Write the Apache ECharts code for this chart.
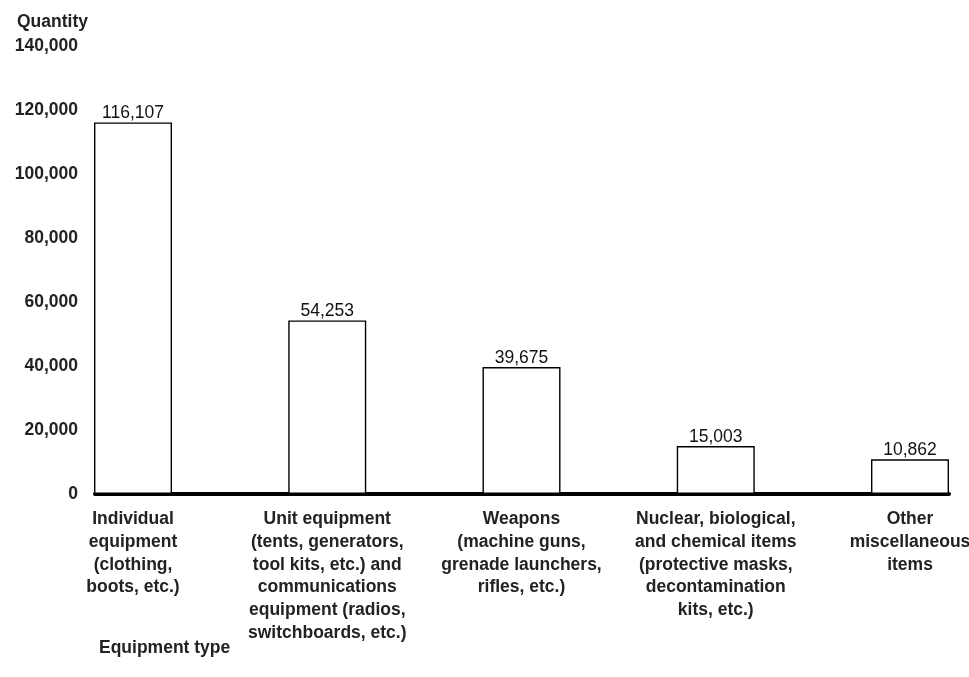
<!DOCTYPE html>
<html>
<head>
<meta charset="utf-8">
<script src="https://cdn.jsdelivr.net/npm/echarts@6/dist/echarts.min.js"></script>
<style>
  html, body { margin: 0; padding: 0; background: #fff; }
  #chart { width: 969px; height: 677px; }
</style>
</head>
<body>
<div id="chart"></div>
<script>
// equipment categories and quantities
const categories = [
  'Individual\nequipment\n(clothing,\nboots, etc.)',
  'Unit equipment\n(tents, generators,\ntool kits, etc.) and\ncommunications\nequipment (radios,\nswitchboards, etc.)',
  'Weapons\n(machine guns,\ngrenade launchers,\nrifles, etc.)',
  'Nuclear, biological,\nand chemical items\n(protective masks,\ndecontamination\nkits, etc.)',
  'Other\nmiscellaneous\nitems'
]
const quantities = [116107, 54253, 39675, 15003, 10862]

const font = 'Arial, "Liberation Sans", Helvetica, sans-serif'
const fs = 17.5

const chart = echarts.init(document.getElementById('chart'))

const option = {
  animation: false,
  backgroundColor: '#fff',
  title: [
    {
      text: 'Quantity',
      left: 12, top: 8,
      textStyle: { fontFamily: font, fontSize: fs, fontWeight: 'bold', color: '#222' }
    },
    {
      text: 'Equipment type',
      left: 94, top: 634,
      textStyle: { fontFamily: font, fontSize: fs, fontWeight: 'bold', color: '#222' }
    }
  ],
  grid: [
    // bars
    { left: 133, right: 59, top: 46, bottom: 183, outerBoundsMode: 'none' },
    // baseline + value axis labels
    { left: 95, right: 20, top: 46, bottom: 183, outerBoundsMode: 'none' }
  ],
  xAxis: [
    {
      type: 'category',
      gridIndex: 0,
      data: categories,
      boundaryGap: false,
      axisLine: { show: false },
      axisTick: { show: false },
      axisLabel: {
        margin: 14,
        interval: 0,
        fontFamily: font,
        fontSize: fs,
        fontWeight: 'bold',
        color: '#222',
        lineHeight: 22.7,
        align: 'center'
      }
    },
    {
      type: 'value',
      gridIndex: 1,
      min: 0, max: 1,
      axisLine: { show: true, onZero: false, lineStyle: { color: '#000', width: 4 } },
      axisTick: { show: false },
      axisLabel: { show: false },
      splitLine: { show: false }
    }
  ],
  yAxis: [
    {
      type: 'value',
      gridIndex: 0,
      min: 0, max: 140000, interval: 20000,
      axisLine: { show: false },
      axisTick: { show: false },
      axisLabel: { show: false },
      splitLine: { show: false }
    },
    {
      type: 'value',
      gridIndex: 1,
      min: 0, max: 140000, interval: 20000,
      axisLine: { show: false },
      axisTick: { show: false },
      splitLine: { show: false },
      axisLabel: {
        margin: 17,
        padding: [4, 0, 0, 0],
        fontFamily: font,
        fontSize: fs,
        fontWeight: 'bold',
        color: '#222',
        formatter: v => v.toLocaleString('en-US')
      }
    }
  ],
  series: [
    {
      type: 'bar',
      xAxisIndex: 0,
      yAxisIndex: 0,
      data: quantities,
      barWidth: 78,
      itemStyle: { color: '#fff', borderColor: '#000', borderWidth: 1.4 },
      label: {
        show: true,
        position: 'top',
        distance: 0,
        fontFamily: font,
        fontSize: fs,
        color: '#111',
        formatter: p => p.value.toLocaleString('en-US')
      },
      z: 1
    }
  ]
}

chart.setOption(option)
</script>
</body>
</html>
